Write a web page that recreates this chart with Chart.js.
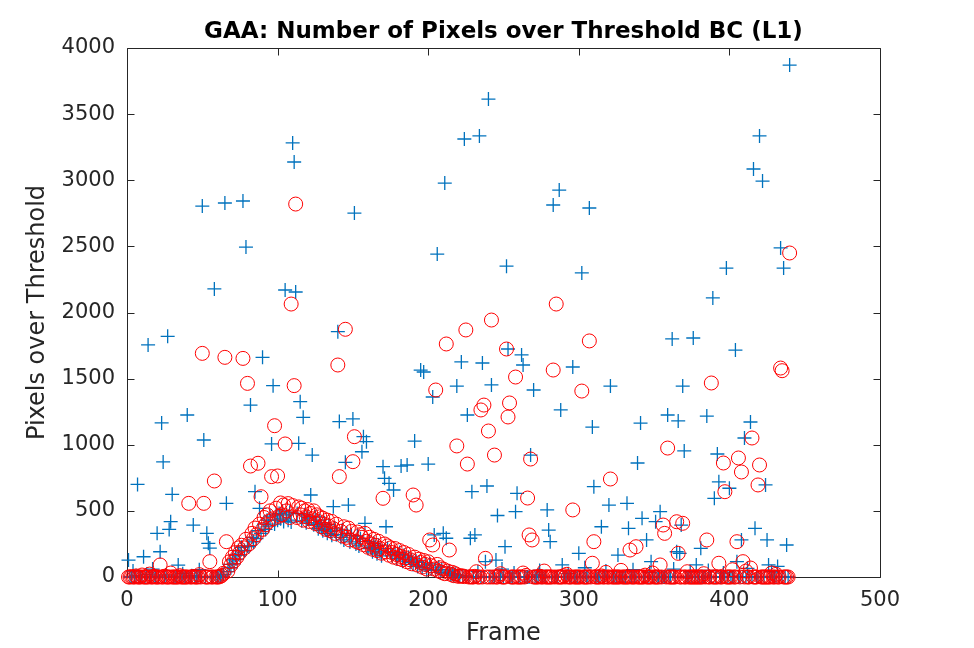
<!DOCTYPE html>
<html><head><meta charset="utf-8">
<script src="https://cdn.jsdelivr.net/npm/chart.js@4.4.1/dist/chart.umd.min.js"></script>
<style>html,body{margin:0;padding:0;background:#fff;}canvas{display:block;}</style>
</head><body>
<canvas id="c" width="974" height="648"></canvas>
<script>
const titleText = 'GAA: Number of Pixels over Threshold BC (L1)';
const xLabel = 'Frame';
const yLabel = 'Pixels over Threshold';
const xTicks = [0, 100, 200, 300, 400, 500];
const yTicks = [0, 500, 1000, 1500, 2000, 2500, 3000, 3500, 4000];

// Blue '+' series, frames 1..440
const blueCross = [
128,0,0,45,0,10,700,0,0,0,153,0,20,1755,0,0,60,0,0,330,
0,191,1165,870,0,15,1820,360,418,625,0,0,0,90,0,0,25,0,0,1225,
0,0,10,393,0,0,0,55,0,2805,1036,0,330,255,219,0,0,2178,0,0,
0,5,8,20,2828,557,40,95,70,130,100,165,135,200,165,225,2843,200,2495,235,
230,1300,300,265,645,290,350,519,330,1661,400,360,430,385,460,1006,1447,400,470,430,
480,440,500,420,2170,470,430,490,415,3282,3138,2155,480,1011,1326,425,1207,470,410,455,
440,620,922,395,455,410,365,430,380,350,410,360,330,395,345,315,532,370,320,1855,
1175,300,355,280,867,330,544,265,315,1195,2752,250,310,235,290,947,1061,406,1023,215,
270,225,190,255,210,175,240,190,160,834,746,380,215,708,190,160,658,185,140,170,
185,839,120,165,135,847,150,110,130,95,1028,120,80,110,1565,70,1550,90,55,854,
100,60,1361,318,50,2442,75,35,55,330,2979,293,30,45,15,25,10,20,1444,5,
12,1626,8,3312,5,1225,0,293,645,0,318,0,40,3335,0,1618,0,116,688,3614,
0,1452,0,0,128,465,0,0,60,0,229,2350,1724,0,0,0,30,494,633,0,
0,1679,1603,0,0,0,0,922,0,1414,0,0,15,50,0,0,0,0,507,355,
267,0,2813,0,0,0,2926,1263,91,0,0,0,25,0,0,1588,0,0,0,179,
0,2299,0,70,0,0,2790,0,1134,683,0,0,0,0,380,0,0,45,0,544,
1444,0,0,0,0,166,0,0,0,0,0,557,368,0,0,55,0,0,862,0,
1164,444,0,0,280,0,35,116,0,0,418,0,0,494,0,0,0,0,1225,0,
0,1800,60,0,191,1180,179,393,1444,953,0,0,0,40,0,1807,0,91,0,0,
217,0,0,0,1217,50,0,0,2110,595,0,930,720,0,0,30,0,2336,0,671,
0,0,0,1716,116,0,0,280,0,1051,0,65,0,1172,0,3085,368,0,0,3335,
0,2994,0,696,280,91,0,40,0,0,0,80,0,2488,0,2336,0,242,0,3871
];

// Red 'o' series, frames 1..440
const redCircle = [
0,0,3,0,0,8,0,0,0,15,0,0,0,0,22,0,0,5,0,0,
0,91,0,0,6,0,0,0,30,0,0,0,0,0,10,0,0,0,0,0,
557,0,0,4,0,0,0,18,0,1691,557,0,0,0,116,0,0,726,0,0,
0,5,12,28,1661,267,45,115,90,150,120,185,150,220,185,240,1653,220,285,1464,
250,839,330,290,370,320,860,400,607,360,450,395,470,420,500,759,440,1144,520,764,
460,560,470,545,1006,500,555,450,2064,540,1447,2820,450,530,470,520,430,500,455,510,
420,480,440,500,405,470,420,455,380,445,400,360,430,385,350,420,365,330,400,1603,
759,345,310,380,1873,300,370,280,345,872,1061,270,340,260,320,300,245,330,270,225,
300,250,210,285,240,200,270,215,180,595,250,190,235,165,220,185,150,215,170,140,
200,155,130,185,145,115,170,130,100,620,150,544,90,135,110,75,125,95,60,115,
280,85,242,60,1414,95,45,70,35,60,25,1762,45,204,20,35,10,25,991,5,
10,6,8,3,1868,854,0,2,0,0,5,40,0,0,1263,0,1300,141,0,1104,
0,1943,0,922,0,0,8,25,0,0,0,1724,1210,1316,0,0,0,1512,0,0,
0,0,30,0,12,597,318,892,280,0,0,0,0,6,0,0,45,0,0,0,
0,0,1565,0,2064,0,0,0,0,10,0,20,0,0,0,507,0,0,0,0,
0,1406,0,0,0,0,1785,0,104,267,0,0,0,0,8,0,0,35,0,0,
741,0,0,0,0,0,0,50,0,0,0,0,0,204,0,0,0,229,0,0,
0,0,0,14,0,0,0,0,30,0,0,0,0,91,0,393,330,0,975,0,
0,0,0,0,418,179,0,0,406,0,0,40,0,0,0,0,0,0,0,0,
0,0,25,0,280,0,0,1467,0,0,0,0,104,0,0,862,645,0,0,0,
0,55,0,0,267,900,0,794,116,0,45,0,0,68,1051,0,0,0,696,847,
0,0,0,0,0,0,0,30,0,0,20,0,0,1580,1560,0,0,0,0,2450
];

const frames = blueCross.map((_, i) => i + 1);

const AXIS_COLOR = '#262626';
Chart.defaults.font.family = '"DejaVu Sans", Verdana, sans-serif';
Chart.defaults.color = AXIS_COLOR;

const boxPlugin = {
  id: 'matlabBox',
  beforeDatasetsDraw(chart) {
    const {ctx, chartArea: a, scales: {x, y}} = chart;
    ctx.save();
    ctx.strokeStyle = AXIS_COLOR;
    ctx.lineWidth = 1;
    const L = Math.round(a.left) + 0.5, R = Math.round(a.right) + 0.5;
    const T = Math.round(a.top) + 0.5, B = Math.round(a.bottom) + 0.5;
    ctx.beginPath();
    ctx.rect(L, T, R - L, B - T);
    xTicks.forEach(v => {
      const px = Math.round(x.getPixelForValue(v)) + 0.5;
      ctx.moveTo(px, B); ctx.lineTo(px, B - 7);
      ctx.moveTo(px, T); ctx.lineTo(px, T + 7);
    });
    yTicks.forEach(v => {
      const py = Math.round(y.getPixelForValue(v)) + 0.5;
      ctx.moveTo(L, py); ctx.lineTo(L + 7, py);
      ctx.moveTo(R, py); ctx.lineTo(R - 7, py);
    });
    ctx.stroke();
    ctx.restore();
  }
};

new Chart(document.getElementById('c'), {
  type: 'scatter',
  data: {
    datasets: [
      {
        label: 'BC',
        data: frames.map((f, i) => ({x: f, y: redCircle[i]})),
        pointStyle: 'circle',
        pointRadius: 7,
        pointBorderWidth: 1,
        borderColor: '#FF0000',
        backgroundColor: 'rgba(0,0,0,0)',
        pointBackgroundColor: 'rgba(0,0,0,0)',
        clip: false,
        order: 0
      },
      {
        label: 'L1',
        data: frames.map((f, i) => ({x: f, y: blueCross[i]})),
        pointStyle: 'cross',
        pointRadius: 7,
        pointBorderWidth: 1.3,
        borderColor: '#0072BD',
        backgroundColor: '#0072BD',
        clip: false,
        order: 1
      }
    ]
  },
  options: {
    responsive: false,
    devicePixelRatio: 1,
    animation: false,
    events: [],
    layout: {padding: {left: 0, right: 94, top: 0, bottom: 0}},
    plugins: {
      legend: {display: false},
      tooltip: {enabled: false},
      title: {
        display: true,
        text: titleText,
        fullSize: false,
        color: '#000',
        font: {size: 23, weight: 'bold'},
        padding: {top: 18, bottom: 2.4}
      }
    },
    scales: {
      x: {
        type: 'linear',
        min: 0, max: 500,
        afterFit: s => { s.height = 71; },
        afterBuildTicks: s => { s.ticks = xTicks.map(v => ({value: v})); },
        grid: {display: false, drawTicks: false},
        border: {display: false},
        ticks: {font: {size: 21}, padding: 11, callback: v => String(v), maxRotation: 0},
        title: {display: true, text: xLabel, font: {size: 24}, padding: {top: 2, bottom: 0}}
      },
      y: {
        type: 'linear',
        min: 0, max: 4000,
        afterFit: s => { s.width = 127; },
        afterBuildTicks: s => { s.ticks = yTicks.map(v => ({value: v})); },
        grid: {display: false, drawTicks: false},
        border: {display: false},
        ticks: {font: {size: 21}, padding: 12, callback: v => String(v)},
        title: {display: true, text: yLabel, font: {size: 24}, padding: {top: 23, bottom: 0}}
      }
    }
  },
  plugins: [boxPlugin]
});
</script>
</body></html>
